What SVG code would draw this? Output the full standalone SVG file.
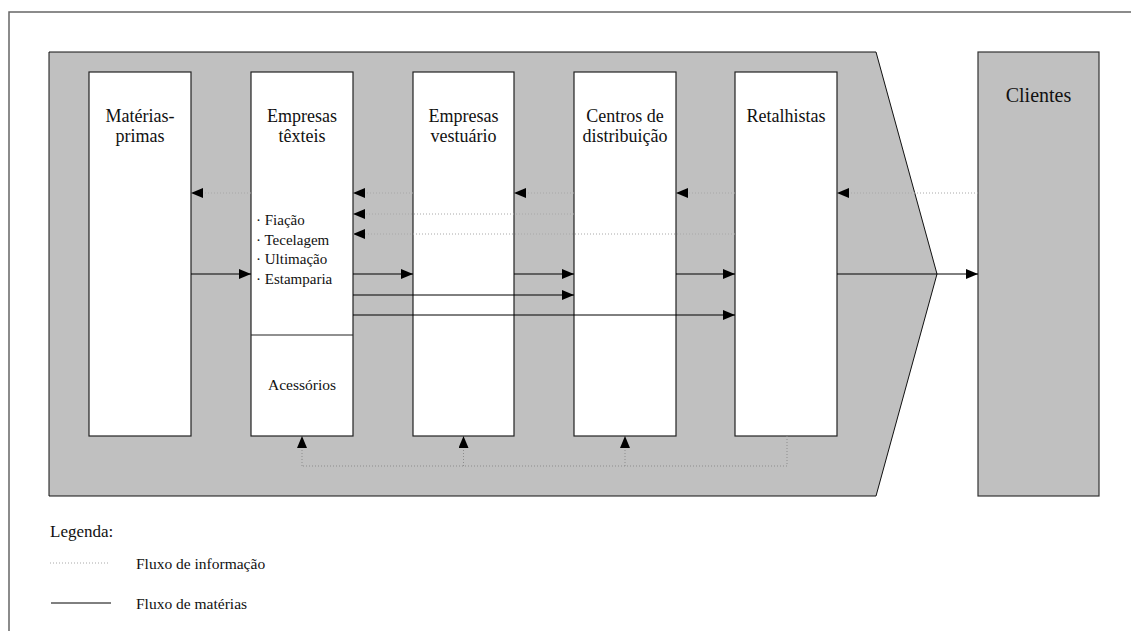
<svg xmlns="http://www.w3.org/2000/svg" width="1131" height="631" viewBox="0 0 1131 631">
<defs>
<marker id="ah" markerUnits="userSpaceOnUse" markerWidth="12" markerHeight="10" refX="12" refY="5" orient="auto">
<path d="M0,0 L12,5 L0,10 z" fill="#000"/>
</marker>
<style>
text{font-family:'Liberation Serif','Times New Roman',Times,serif;fill:#111;}
.box{fill:#fff;stroke:#222;stroke-width:1.2;}
.info{fill:none;stroke:#a8a8a8;stroke-width:1;stroke-dasharray:1 2;}
.infoB{fill:none;stroke:#8c8c8c;stroke-width:1;stroke-dasharray:1 2;}
.mat{fill:none;stroke:#000;stroke-width:1;}
</style>
</defs>
<rect width="1131" height="631" fill="#fff"/>
<rect x="9" y="12" width="1140" height="640" fill="none" stroke="#666" stroke-width="1.5"/>
<g id="chain">
<polygon points="49,52 876,52 937,274 876,496 49,496" fill="#c0c0c0" stroke="#111" stroke-width="1"/>
</g>
<g font-family="Liberation Serif, Times New Roman, serif">
<g id="clientes">
<rect x="978" y="52" width="121" height="444" fill="#c0c0c0" stroke="#333" stroke-width="1.2"/>
<text x="1038.5" y="102" font-size="20" text-anchor="middle">Clientes</text>
</g>
<g id="materias">
<rect class="box" x="89" y="72" width="102" height="364"/>
<text x="140" y="122" font-size="18" text-anchor="middle">Matérias-</text>
<text x="140" y="142" font-size="18" text-anchor="middle">primas</text>
</g>
<g id="texteis">
<rect class="box" x="251" y="72" width="102" height="364"/>
<line x1="251" y1="335" x2="353" y2="335" stroke="#222" stroke-width="1.2"/>
<text x="302" y="122" font-size="18" text-anchor="middle">Empresas</text>
<text x="302" y="142" font-size="18" text-anchor="middle">têxteis</text>
<text x="256" y="225" font-size="15">· Fiação</text>
<text x="256" y="245" font-size="15">· Tecelagem</text>
<text x="256" y="264" font-size="15">· Ultimação</text>
<text x="256" y="284" font-size="15">· Estamparia</text>
<text x="302" y="390" font-size="15.5" text-anchor="middle">Acessórios</text>
</g>
<g id="vestuario">
<rect class="box" x="413" y="72" width="101" height="364"/>
<text x="463.5" y="122" font-size="18" text-anchor="middle">Empresas</text>
<text x="463.5" y="142" font-size="18" text-anchor="middle">vestuário</text>
</g>
<g id="centros">
<rect class="box" x="574" y="72" width="102" height="364"/>
<text x="625" y="122" font-size="18" text-anchor="middle">Centros de</text>
<text x="625" y="142" font-size="18" text-anchor="middle">distribuição</text>
</g>
<g id="retalhistas">
<rect class="box" x="735" y="72" width="102" height="364"/>
<text x="786" y="122" font-size="18" text-anchor="middle">Retalhistas</text>
</g>
</g>
<g id="connectors">
<line class="info" x1="978" y1="193" x2="837" y2="193" marker-end="url(#ah)"/>
<line class="info" x1="735" y1="193" x2="676" y2="193" marker-end="url(#ah)"/>
<line class="info" x1="574" y1="193" x2="514" y2="193" marker-end="url(#ah)"/>
<line class="info" x1="413" y1="193" x2="353" y2="193" marker-end="url(#ah)"/>
<line class="info" x1="251" y1="193" x2="191" y2="193" marker-end="url(#ah)"/>
<line class="info" x1="574" y1="214" x2="353" y2="214" marker-end="url(#ah)"/>
<line class="info" x1="735" y1="234" x2="353" y2="234" marker-end="url(#ah)"/>
<polyline class="infoB" points="787,436 787,466 302,466"/>
<line class="infoB" x1="302" y1="466" x2="302" y2="436" marker-end="url(#ah)"/>
<line class="infoB" x1="463.5" y1="466" x2="463.5" y2="436" marker-end="url(#ah)"/>
<line class="infoB" x1="625" y1="466" x2="625" y2="436" marker-end="url(#ah)"/>
<line class="mat" x1="191" y1="274" x2="251" y2="274" marker-end="url(#ah)"/>
<line class="mat" x1="353" y1="274" x2="413" y2="274" marker-end="url(#ah)"/>
<line class="mat" x1="514" y1="274" x2="574" y2="274" marker-end="url(#ah)"/>
<line class="mat" x1="676" y1="274" x2="735" y2="274" marker-end="url(#ah)"/>
<line class="mat" x1="837" y1="274" x2="978" y2="274" marker-end="url(#ah)"/>
<line class="mat" x1="353" y1="295" x2="574" y2="295" marker-end="url(#ah)"/>
<line class="mat" x1="353" y1="315" x2="735" y2="315" marker-end="url(#ah)"/>
</g>
<g id="legend" font-family="Liberation Serif, Times New Roman, serif">
<text x="50" y="537" font-size="17">Legenda:</text>
<line class="info" x1="50" y1="563" x2="110" y2="563"/>
<text x="136" y="569" font-size="15.5">Fluxo de informação</text>
<line class="mat" x1="51" y1="603" x2="111" y2="603"/>
<text x="136" y="609" font-size="15.5">Fluxo de matérias</text>
</g>
</svg>
